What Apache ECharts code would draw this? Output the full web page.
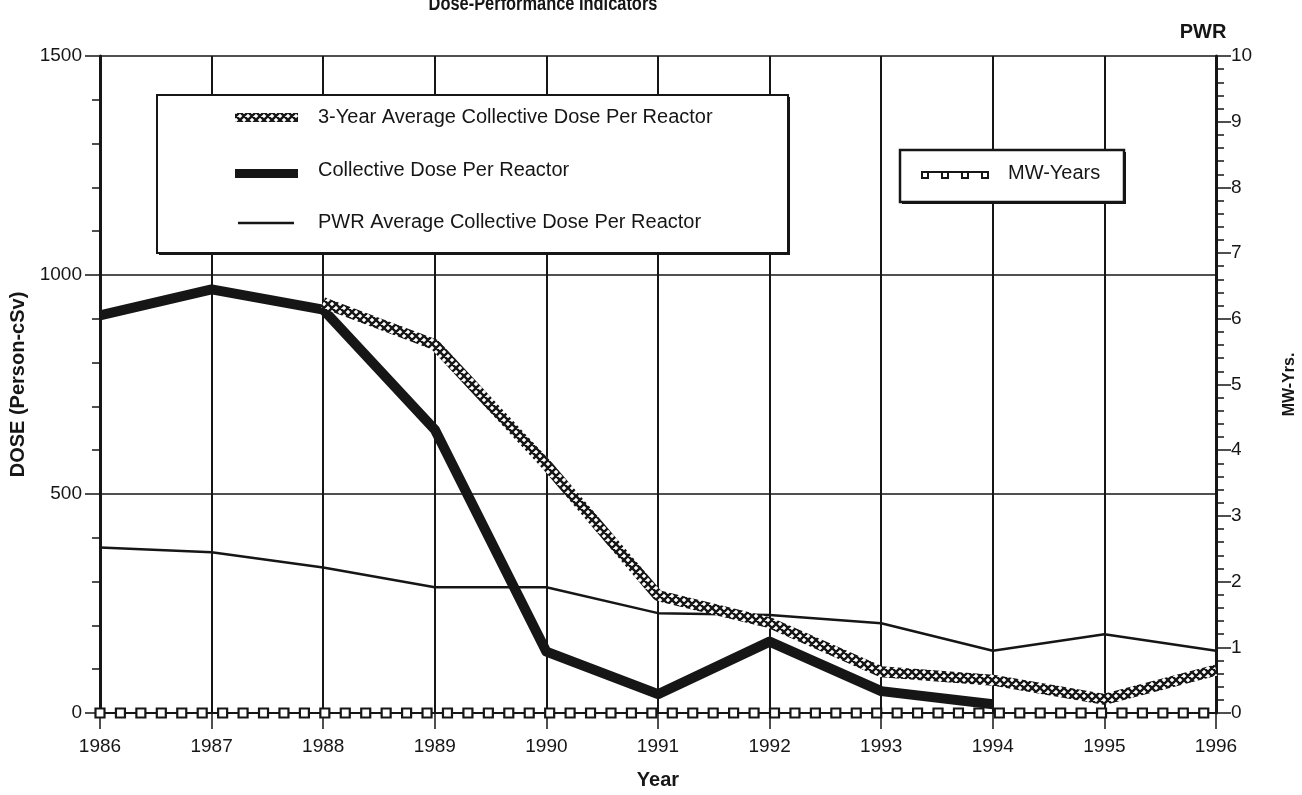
<!DOCTYPE html>
<html>
<head>
<meta charset="utf-8">
<title>Dose-Performance Indicators</title>
<script src="https://cdn.jsdelivr.net/npm/echarts@6/dist/echarts.min.js"></script>
<style>
  html, body { margin: 0; padding: 0; background: #fff; }
  #chart { width: 1302px; height: 795px; }
</style>
</head>
<body>
<div id="chart"></div>
<script>
// ---- data ----
const years = ['1986', '1987', '1988', '1989', '1990', '1991', '1992', '1993', '1994', '1995', '1996'];
// Collective dose per reactor (person-cSv)
const collectiveDose = [908, 967, 921, 647, 140, 43, 163, 50, 20, null, null];
// 3-year rolling average of collective dose per reactor (person-cSv)
const threeYearAvgDose = [null, null, 937, 841, 567, 268, 206, 94, 75, 31, 98];
// PWR fleet average collective dose per reactor (person-cSv)
const pwrAvgDose = [378, 367, 332, 287, 287, 228, 224, 205, 142, 180, 142];
// MW-years per reporting period (right axis)
const mwYears = [
  0, 0, 0, 0, 0, 0, 0, 0, 0, 0, 0,
  0, 0, 0, 0, 0, 0, 0, 0, 0, 0, 0,
  0, 0, 0, 0, 0, 0, 0, 0, 0, 0, 0,
  0, 0, 0, 0, 0, 0, 0, 0, 0, 0, 0,
  0, 0, 0, 0, 0, 0, 0, 0, 0, 0, 0
];
const legendNames = [
  '3-Year Average Collective Dose Per Reactor',
  'Collective Dose Per Reactor',
  'PWR Average Collective Dose Per Reactor',
  'MW-Years'
];

// ---- styling ----
const INK = '#161616';
const FONT = "'Liberation Sans', Arial, Helvetica, sans-serif";

// cross-hatched stroke texture for the 3-year average line
function crossHatch() {
  const s = 8;
  const c = document.createElement('canvas');
  c.width = s; c.height = s;
  const g = c.getContext('2d');
  g.fillStyle = '#fff';
  g.fillRect(0, 0, s, s);
  g.strokeStyle = INK;
  g.lineWidth = 2.4;
  g.beginPath();
  for (const d of [-s, 0, s]) {
    g.moveTo(d, 0); g.lineTo(d + s, s);
    g.moveTo(d + s, 0); g.lineTo(d, s);
  }
  g.stroke();
  return c;
}
const hatch = { image: crossHatch(), repeat: 'repeat' };

const chart = echarts.init(document.getElementById('chart'), null, { renderer: 'canvas' });

const mwData = mwYears.map((v, i) => [i, v]);
const plainNumber = (v) => String(v);

const option = {
  backgroundColor: '#fff',
  animation: false,
  textStyle: { fontFamily: FONT, color: INK },
  grid: { left: 100, right: 86, top: 56, bottom: 82, containLabel: false, outerBoundsMode: 'none' },
  xAxis: [
    {
      type: 'category',
      data: years,
      boundaryGap: false,
      axisLine: { show: true, lineStyle: { color: INK, width: 2 } },
      axisTick: { show: true, inside: false, length: 16, lineStyle: { color: INK, width: 1.5 } },
      axisLabel: { margin: 24, fontSize: 19, color: INK, fontFamily: FONT },
      splitLine: { show: true, lineStyle: { color: INK, width: 2 } },
      name: 'Year',
      nameLocation: 'middle',
      nameGap: 57,
      nameTextStyle: { fontSize: 20, fontWeight: 'bold', color: INK, fontFamily: FONT }
    },
    {
      type: 'value',
      min: 0,
      max: 54.6,
      show: false
    }
  ],
  yAxis: [
    {
      type: 'value',
      min: 0,
      max: 1500,
      interval: 500,
      axisLine: { show: true, lineStyle: { color: INK, width: 3 } },
      axisTick: { show: true, length: 15, lineStyle: { color: INK, width: 1.5 } },
      minorTick: { show: true, splitNumber: 5, length: 8, lineStyle: { color: INK, width: 1.5 } },
      axisLabel: { margin: 18, fontSize: 19, color: INK, fontFamily: FONT, formatter: plainNumber },
      splitLine: { show: true, lineStyle: { color: INK, width: 1.5 } },
      name: 'DOSE (Person-cSv)',
      nameLocation: 'middle',
      nameGap: 70,
      nameRotate: 90,
      nameTextStyle: { fontSize: 20, fontWeight: 'bold', color: INK, fontFamily: FONT }
    },
    {
      type: 'value',
      position: 'right',
      min: 0,
      max: 10,
      interval: 1,
      axisLine: { show: true, lineStyle: { color: INK, width: 3 } },
      axisTick: { show: true, length: 15, lineStyle: { color: INK, width: 1.5 } },
      minorTick: { show: true, splitNumber: 5, length: 8, lineStyle: { color: INK, width: 1.5 } },
      axisLabel: { margin: 15, fontSize: 19, color: INK, fontFamily: FONT, formatter: plainNumber },
      splitLine: { show: false },
      name: 'MW-Yrs.',
      nameLocation: 'middle',
      nameGap: 66,
      nameRotate: 90,
      nameTextStyle: { fontSize: 16, fontWeight: 'bold', color: INK, fontFamily: FONT }
    }
  ],
  series: [
    {
      name: legendNames[2],
      type: 'line',
      data: pwrAvgDose,
      showSymbol: false,
      lineStyle: { color: INK, width: 2.5 },
      z: 3
    },
    {
      name: legendNames[1],
      type: 'line',
      data: collectiveDose,
      showSymbol: false,
      lineStyle: { color: INK, width: 10, join: 'round' },
      z: 4
    },
    {
      name: legendNames[0],
      type: 'line',
      data: threeYearAvgDose,
      showSymbol: false,
      connectNulls: false,
      lineStyle: { color: hatch, width: 11 },
      z: 5
    },
    {
      name: legendNames[3],
      type: 'line',
      xAxisIndex: 1,
      yAxisIndex: 1,
      data: mwData,
      symbol: 'rect',
      symbolSize: 9,
      itemStyle: { color: '#fff', borderColor: INK, borderWidth: 2.2 },
      lineStyle: { color: INK, width: 2 },
      z: 6
    }
  ],
  graphic: [
    // chart title (condensed bold, runs off the top edge)
    {
      type: 'text', z: 20,
      x: 543, y: -6, scaleX: 0.82,
      style: { text: 'Dose-Performance Indicators', x: 0, y: 0, textAlign: 'center',
        fontSize: 20, fontWeight: 'bold', fontFamily: FONT, fill: INK }
    },
    {
      type: 'text', z: 20,
      style: { text: 'PWR', x: 1203, y: 32, textAlign: 'center', textVerticalAlign: 'middle',
        fontSize: 20, fontWeight: 'bold', fontFamily: FONT, fill: INK }
    },
    // dose legend box
    { type: 'rect', z: 19, shape: { x: 159, y: 97, width: 631, height: 158 }, style: { fill: INK } },
    { type: 'rect', z: 20, shape: { x: 157, y: 95, width: 631, height: 158 },
      style: { fill: '#fff', stroke: INK, lineWidth: 2 } },
    { type: 'rect', z: 21, shape: { x: 235, y: 113, width: 63, height: 9 }, style: { fill: hatch } },
    { type: 'rect', z: 21, shape: { x: 235, y: 169, width: 63, height: 9 }, style: { fill: INK } },
    { type: 'line', z: 21, shape: { x1: 238, y1: 223, x2: 294, y2: 223 }, style: { stroke: INK, lineWidth: 2.5 } },
    {
      type: 'text', z: 21,
      style: { text: legendNames[0], x: 318, y: 117, textVerticalAlign: 'middle',
        fontSize: 20, fontFamily: FONT, fill: INK }
    },
    {
      type: 'text', z: 21,
      style: { text: legendNames[1], x: 318, y: 170, textVerticalAlign: 'middle',
        fontSize: 20, fontFamily: FONT, fill: INK }
    },
    {
      type: 'text', z: 21,
      style: { text: legendNames[2], x: 318, y: 222, textVerticalAlign: 'middle',
        fontSize: 20, fontFamily: FONT, fill: INK }
    },
    // MW-Years legend box
    { type: 'rect', z: 19, shape: { x: 902, y: 152, width: 224, height: 52 }, style: { fill: INK } },
    { type: 'rect', z: 20, shape: { x: 900, y: 150, width: 224, height: 52 },
      style: { fill: '#fff', stroke: INK, lineWidth: 2.5 } },
    { type: 'line', z: 21, shape: { x1: 922, y1: 172, x2: 988, y2: 172 }, style: { stroke: INK, lineWidth: 2 } },
    { type: 'rect', z: 22, shape: { x: 922, y: 172, width: 6, height: 6 }, style: { fill: '#fff', stroke: INK, lineWidth: 2 } },
    { type: 'rect', z: 22, shape: { x: 942, y: 172, width: 6, height: 6 }, style: { fill: '#fff', stroke: INK, lineWidth: 2 } },
    { type: 'rect', z: 22, shape: { x: 962, y: 172, width: 6, height: 6 }, style: { fill: '#fff', stroke: INK, lineWidth: 2 } },
    { type: 'rect', z: 22, shape: { x: 982, y: 172, width: 6, height: 6 }, style: { fill: '#fff', stroke: INK, lineWidth: 2 } },
    {
      type: 'text', z: 21,
      style: { text: legendNames[3], x: 1008, y: 173, textVerticalAlign: 'middle',
        fontSize: 20, fontFamily: FONT, fill: INK }
    }
  ]
};

chart.setOption(option);
</script>
</body>
</html>
